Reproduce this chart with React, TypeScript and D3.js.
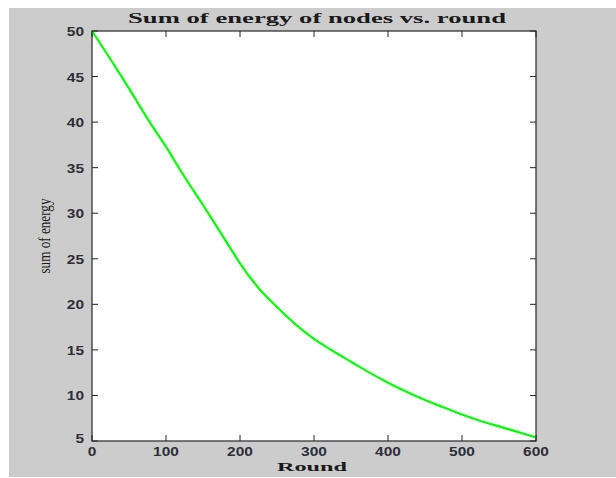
import React from 'react';
import * as d3 from 'd3';

// sum of energy of nodes per round
const rounds = [0, 25, 40, 50, 78, 100, 115, 125, 150, 175, 189, 200, 225, 250, 275, 300, 325, 350, 375, 400, 425, 450, 475, 500, 525, 550, 575, 600];
const energy = [50, 46.9, 45, 43.7, 40, 37.3, 35.3, 34.0, 30.9, 27.7, 25.9, 24.5, 21.8, 19.7, 17.8, 16.2, 14.9, 13.7, 12.5, 11.4, 10.4, 9.5, 8.7, 7.9, 7.2, 6.6, 6.0, 5.4];
const xTicks = [0, 100, 200, 300, 400, 500, 600];
const yTicks = [5, 10, 15, 20, 25, 30, 35, 40, 45, 50];

const W = 616, H = 478;
const left = 92, right = 536, top = 31, bottom = 441;
const tickLen = 6;
const axisColor = '#262626';
const labelColor = '#2e2e38';

function App() {
  const x = d3.scaleLinear().domain([0, 600]).range([left, right]);
  const y = d3.scaleLinear().domain([5, 50]).range([bottom, top]);

  const line = d3.line<number>()
    .x((d, i) => x(rounds[i]))
    .y(d => y(d))
    .curve(d3.curveMonotoneX);

  const tickFont = { fontFamily: 'Liberation Sans, Arial, sans-serif', fontSize: 13, fontWeight: 700, fill: labelColor, lengthAdjust: 'spacingAndGlyphs' };

  return (
    <svg width={W} height={H} style={{ position: 'absolute', left: 0, top: 0, display: 'block' }}>
      <rect x={0} y={0} width={W} height={H} fill="#fff" />
      <rect x={9} y={8} width={W - 9} height={469} fill="#cccccc" />
      <rect x={left} y={top} width={right - left} height={bottom - top} fill="#fff" />

      {/* ticks, all four sides pointing inwards */}
      <g stroke={axisColor} strokeWidth={1}>
        {xTicks.map(t => (
          <g key={'xt' + t}>
            <line x1={x(t)} x2={x(t)} y1={bottom} y2={bottom - tickLen} />
            <line x1={x(t)} x2={x(t)} y1={top} y2={top + tickLen} />
          </g>
        ))}
        {yTicks.map(t => (
          <g key={'yt' + t}>
            <line x1={left} x2={left + tickLen} y1={y(t)} y2={y(t)} />
            <line x1={right} x2={right - tickLen} y1={y(t)} y2={y(t)} />
          </g>
        ))}
      </g>

      <path d={line(energy) || ''} fill="none" stroke="#00ff00" strokeWidth={2.2} strokeLinejoin="round" />

      <rect x={left} y={top} width={right - left} height={bottom - top} fill="none" stroke={axisColor} strokeWidth={1.2} />

      {xTicks.map(t => (
        <text key={'xl' + t} x={x(t)} y={bottom + 15} textAnchor="middle" textLength={String(t).length * 8.6} {...tickFont}>{t}</text>
      ))}
      {yTicks.map(t => (
        <text key={'yl' + t} x={left - 8} y={y(t) + (t === 5 ? 2 : 5)} textAnchor="end" textLength={String(t).length * 8.6} {...tickFont}>{t}</text>
      ))}

      <text x={317} y={23} textAnchor="middle" fontFamily="Liberation Serif, Times New Roman, serif" fontWeight={700} fontSize={15}
        textLength={378} lengthAdjust="spacingAndGlyphs" fill="#1a1a1a">Sum of energy of nodes vs. round</text>
      <text x={312} y={471} textAnchor="middle" fontFamily="Liberation Serif, Times New Roman, serif" fontWeight={700} fontSize={13}
        textLength={70} lengthAdjust="spacingAndGlyphs" fill="#1a1a1a">Round</text>
      <text transform="translate(50,236) rotate(-90)" textAnchor="middle" fontFamily="Liberation Serif, Times New Roman, serif" fontSize={17}
        textLength={75} lengthAdjust="spacingAndGlyphs" fill="#1a1a1a">sum of energy</text>
    </svg>
  );
}

export default App;
